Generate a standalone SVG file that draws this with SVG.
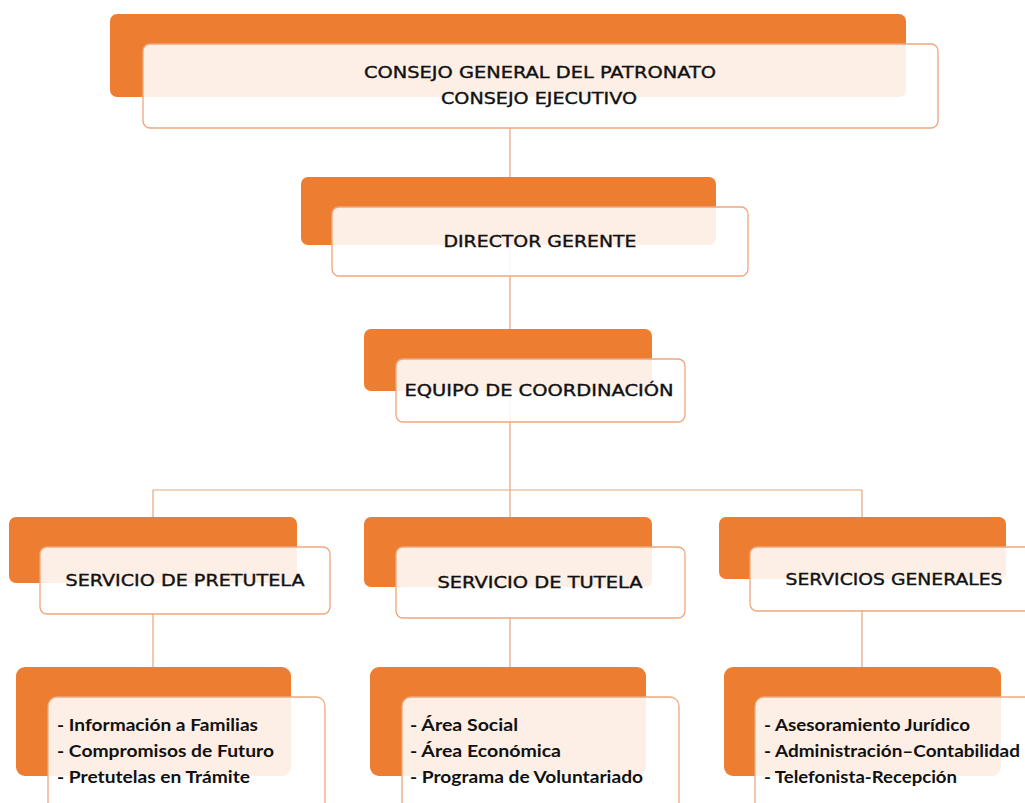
<svg xmlns="http://www.w3.org/2000/svg" width="1025" height="803" viewBox="0 0 1025 803">
<style>
.back{fill:#ed7d31;}
.front{fill:#ffffff;fill-opacity:0.88;stroke:#eea77e;stroke-width:1.3;}
.lbl{font-family:"DejaVu Sans",sans-serif;font-size:15px;fill:#111;stroke:#111;stroke-width:0.35;text-anchor:middle;}
.lst{font-family:Lato,"Open Sans",sans-serif;font-size:17px;font-weight:bold;fill:#111;}
.conn{stroke:#e9a37c;stroke-width:1.2;fill:none;}
</style>
<rect width="1025" height="803" fill="#ffffff"/>
<g id="connectors">
<path class="conn" d="M510 128V490M153 490H862M153 490V547M510 490V547M862 490V547M153 614V697M510 618V697M862 611V697"/>
</g>
<g id="consejo">
<rect class="back" x="110" y="14" width="796" height="83" rx="7"/>
<rect class="front" x="143" y="44" width="795" height="84" rx="7"/>
<text class="lbl" x="540" y="78" textLength="352" lengthAdjust="spacingAndGlyphs">CONSEJO GENERAL DEL PATRONATO</text>
<text class="lbl" x="539" y="104" textLength="196" lengthAdjust="spacingAndGlyphs">CONSEJO EJECUTIVO</text>
</g>
<g id="director">
<rect class="back" x="301" y="177" width="415" height="68" rx="7"/>
<rect class="front" x="332" y="207" width="416" height="69" rx="7"/>
<text class="lbl" x="540" y="247" textLength="193" lengthAdjust="spacingAndGlyphs">DIRECTOR GERENTE</text>
</g>
<g id="equipo">
<rect class="back" x="364" y="329" width="288" height="62" rx="7"/>
<rect class="front" x="396" y="359" width="289" height="63" rx="7"/>
<text class="lbl" x="539" y="396" textLength="269" lengthAdjust="spacingAndGlyphs">EQUIPO DE COORDINACIÓN</text>
</g>
<g id="pretutela">
<rect class="back" x="9" y="517" width="288" height="66" rx="7"/>
<rect class="front" x="40" y="547" width="290" height="67" rx="7"/>
<text class="lbl" x="185" y="586" textLength="239" lengthAdjust="spacingAndGlyphs">SERVICIO DE PRETUTELA</text>
</g>
<g id="tutela">
<rect class="back" x="364" y="517" width="288" height="70" rx="7"/>
<rect class="front" x="396" y="547" width="289" height="71" rx="7"/>
<text class="lbl" x="540" y="588" textLength="205" lengthAdjust="spacingAndGlyphs">SERVICIO DE TUTELA</text>
</g>
<g id="generales">
<rect class="back" x="719" y="517" width="287" height="62" rx="7"/>
<rect class="front" x="750" y="547" width="290" height="64" rx="7"/>
<text class="lbl" x="894" y="585" textLength="217" lengthAdjust="spacingAndGlyphs">SERVICIOS GENERALES</text>
</g>
<g id="lista-pretutela">
<rect class="back" x="16" y="667" width="275" height="109" rx="9"/>
<rect class="front" x="48" y="697" width="277" height="115" rx="9"/>
<text class="lst" x="57" y="731" textLength="201" lengthAdjust="spacingAndGlyphs">- Información a Familias</text>
<text class="lst" x="57" y="757" textLength="217" lengthAdjust="spacingAndGlyphs">- Compromisos de Futuro</text>
<text class="lst" x="57" y="783" textLength="193" lengthAdjust="spacingAndGlyphs">- Pretutelas en Trámite</text>
</g>
<g id="lista-tutela">
<rect class="back" x="370" y="667" width="276" height="109" rx="9"/>
<rect class="front" x="402" y="697" width="277" height="115" rx="9"/>
<text class="lst" x="410" y="731" textLength="108" lengthAdjust="spacingAndGlyphs">- Área Social</text>
<text class="lst" x="410" y="757" textLength="151" lengthAdjust="spacingAndGlyphs">- Área Económica</text>
<text class="lst" x="410" y="783" textLength="233" lengthAdjust="spacingAndGlyphs">- Programa de Voluntariado</text>
</g>
<g id="lista-generales">
<rect class="back" x="724" y="667" width="277" height="109" rx="9"/>
<rect class="front" x="755" y="697" width="290" height="115" rx="9"/>
<text class="lst" x="764" y="731" textLength="206" lengthAdjust="spacingAndGlyphs">- Asesoramiento Jurídico</text>
<text class="lst" x="764" y="757" textLength="256" lengthAdjust="spacingAndGlyphs">- Administración–Contabilidad</text>
<text class="lst" x="764" y="783" textLength="193" lengthAdjust="spacingAndGlyphs">- Telefonista-Recepción</text>
</g>
</svg>
